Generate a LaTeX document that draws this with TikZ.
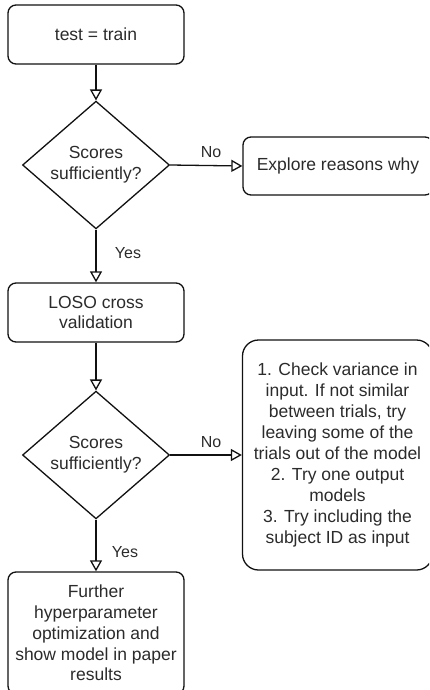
\documentclass[tikz,border=0pt]{standalone}
\usepackage{fontspec}
\setmainfont{Liberation Sans}
\usetikzlibrary{shapes.geometric,arrows.meta}
\definecolor{ink}{HTML}{111111}
\definecolor{txt}{HTML}{2B2B2B}
\newcommand{\boxfs}{\fontsize{17.5pt}{20.8pt}\selectfont}
\newcommand{\lblfs}{\fontsize{16pt}{19pt}\selectfont}
\begin{document}
\begin{tikzpicture}[x=1pt,y=-1pt,
  stepbox/.style={draw=ink, line width=1.3pt, rounded corners=8pt,
    minimum width=176pt, minimum height=59pt, inner sep=0pt,
    align=center, font=\boxfs, text=txt},
  sidebox/.style={stepbox, minimum width=190pt},
  decision/.style={diamond, draw=ink, line width=1.3pt,
    minimum width=147pt, minimum height=115pt, inner sep=0pt,
    align=center, font=\boxfs, text=txt},
  flow/.style={draw=ink, line width=1.3pt,
    -{Triangle[open, length=11pt, width=12pt, line width=1.3pt]}},
  lbl/.style={font=\lblfs, text=txt, inner sep=0pt}]
  \clip (0,0) rectangle (429,690);
  \useasboundingbox (0,0) rectangle (429,690);

  % main column
  \node[stepbox] (start) at (96,34.5) {test = train};
  \node[decision] (dec1) at (96,165) {Scores\\sufficiently?};
  \node[stepbox] (loso) at (96,312.5) {LOSO cross\\validation};
  \node[decision] (dec2) at (96,455) {Scores\\sufficiently?};
  \node[stepbox, minimum height=122pt] (final) at (96,633)
    {Further\\hyperparameter\\optimization and\\show model in paper\\results};

  % side branches
  \node[sidebox, minimum height=58pt] (explore) at (338,166) {Explore reasons why};
  \node[sidebox, rounded corners=16pt, minimum height=230pt,
        font=\fontsize{17.5pt}{21pt}\selectfont] (checks) at (337.5,455)
    {1. Check variance in\\input. If not similar\\between trials, try\\leaving some of the\\trials out of the model\\2. Try one output\\models\\3. Try including the\\subject ID as input};

  % connectors
  \draw[flow] (start.south) -- (dec1.north);
  \draw[flow] (dec1.east) -- (explore.west);
  \draw[flow] (dec1.south) -- (loso.north);
  \draw[flow] (loso.south) -- (dec2.north);
  \draw[flow] (dec2.east) -- (checks.west);
  \draw[flow] (dec2.south) -- (final.north);

  % branch labels
  \node[lbl] (no1) at (211,152) {No};
  \node[lbl] (yes1) at (128,253) {Yes};
  \node[lbl] (no2) at (211,442) {No};
  \node[lbl] (yes2) at (125,552) {Yes};
\end{tikzpicture}
\end{document}
